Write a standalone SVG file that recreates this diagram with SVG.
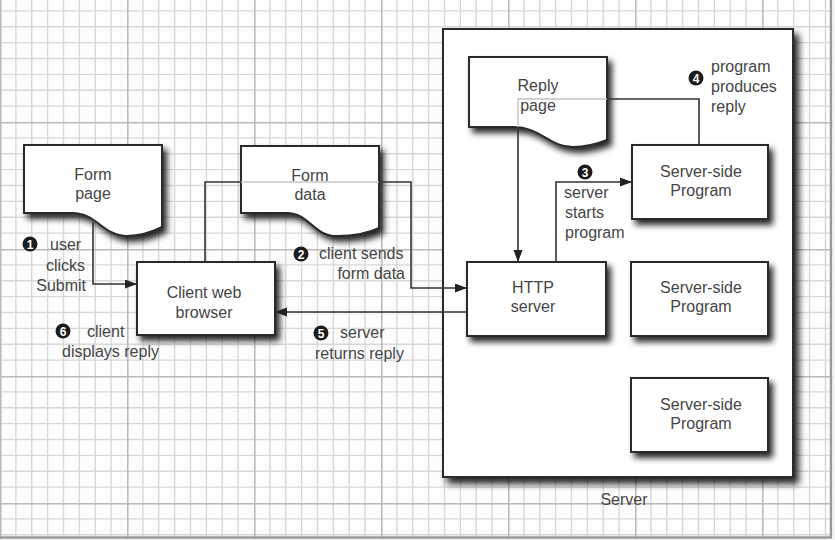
<svg xmlns="http://www.w3.org/2000/svg" width="835" height="540" viewBox="0 0 835 540">
  <defs>
    <!-- graph-paper background: 8 minor cells per major cell -->
    <pattern id="grid" patternUnits="userSpaceOnUse" x="0" y="-5" width="127" height="127">
      <path d="M15.875,0V127M31.75,0V127M47.625,0V127M63.5,0V127M79.375,0V127M95.25,0V127M111.125,0V127M0,15.875H127M0,31.75H127M0,47.625H127M0,63.5H127M0,79.375H127M0,95.25H127M0,111.125H127" stroke="#d8d8d8" stroke-width="1.4" fill="none"/>
      <path d="M0.75,0V127M0,0.75H127" stroke="#bababa" stroke-width="1.6" fill="none"/>
    </pattern>
    <filter id="shadow" x="-15%" y="-15%" width="140%" height="150%">
      <feGaussianBlur in="SourceAlpha" stdDeviation="3"/>
      <feOffset dx="4" dy="5"/>
      <feComponentTransfer><feFuncA type="linear" slope="0.85"/></feComponentTransfer>
      <feMerge><feMergeNode/><feMergeNode in="SourceGraphic"/></feMerge>
    </filter>
    <filter id="shadowBig" x="-8%" y="-8%" width="120%" height="120%">
      <feGaussianBlur in="SourceAlpha" stdDeviation="3.5"/>
      <feOffset dx="5" dy="6"/>
      <feComponentTransfer><feFuncA type="linear" slope="0.85"/></feComponentTransfer>
      <feMerge><feMergeNode/><feMergeNode in="SourceGraphic"/></feMerge>
    </filter>
    <marker id="arrow" markerUnits="userSpaceOnUse" markerWidth="13" markerHeight="10" refX="12" refY="4.5" orient="auto">
      <path d="M0,0L12,4.5L0,9z" fill="#222"/>
    </marker>
    <style>
      .box { fill: #fff; stroke: #2a2a2a; stroke-width: 2; }
      .lbl { font-family: "Liberation Sans", Arial, sans-serif; font-size: 16px; fill: #454545; }
      .mid { text-anchor: middle; }
      .end { text-anchor: end; }
      .wire { fill: none; stroke: #333; stroke-width: 1.6; }
      .faint { fill: none; stroke: #c4c4c4; stroke-width: 1.4; }
      .num { fill: #1c1c1c; }
      .numtxt { font-family: "Liberation Sans", Arial, sans-serif; font-size: 12px; font-weight: bold; fill: #fff; text-anchor: middle; }
    </style>
  </defs>

  <rect width="835" height="540" fill="#fdfdfd"/>
  <rect width="835" height="540" fill="url(#grid)"/>
  <!-- page frame -->
  <path d="M831,0V537.5H0" fill="none" stroke="#9a9a9a" stroke-width="2.5"/>
  <rect x="832.5" y="0" width="3" height="540" fill="#f4f4f4"/>
  <rect x="0" y="539" width="835" height="2" fill="#f4f4f4"/>

  <!-- server container -->
  <g id="server">
    <rect class="box" filter="url(#shadowBig)" x="443" y="29" width="350" height="448"/>
    <text class="lbl mid" x="624" y="505">Server</text>
  </g>

  <g id="form-page">
    <path class="box" filter="url(#shadow)" d="M24,145H162V227C152,232 141,236 127,236C103,236 97,213 72,213L24,213Z"/>
    <text class="lbl mid" x="93" y="180">Form</text>
    <text class="lbl mid" x="93" y="199">page</text>
  </g>

  <g id="form-data">
    <path class="box" filter="url(#shadow)" d="M241,146H379V228C369,233 352,236 337,236C313,236 309,213 287,213L241,213Z"/>
    <text class="lbl mid" x="310" y="181">Form</text>
    <text class="lbl mid" x="310" y="200">data</text>
  </g>

  <g id="browser">
    <rect class="box" filter="url(#shadow)" x="137" y="262" width="138" height="73"/>
    <text class="lbl mid" x="204" y="298">Client web</text>
    <text class="lbl mid" x="204" y="318">browser</text>
  </g>

  <g id="reply-page">
    <path class="box" filter="url(#shadow)" d="M469,57H607V140C597,144 587,147 573,147C549,147 541,127 513,127L469,127Z"/>
    <text class="lbl mid" x="538" y="91">Reply</text>
    <text class="lbl mid" x="538" y="111">page</text>
  </g>

  <g id="http-server">
    <rect class="box" filter="url(#shadow)" x="467" y="262" width="139" height="74"/>
    <text class="lbl mid" x="533" y="293">HTTP</text>
    <text class="lbl mid" x="533" y="312">server</text>
  </g>

  <g id="program-1">
    <rect class="box" filter="url(#shadow)" x="632" y="145" width="136" height="74"/>
    <text class="lbl mid" x="701" y="177">Server-side</text>
    <text class="lbl mid" x="701" y="196">Program</text>
  </g>

  <g id="program-2">
    <rect class="box" filter="url(#shadow)" x="631" y="262" width="137" height="74"/>
    <text class="lbl mid" x="701" y="293">Server-side</text>
    <text class="lbl mid" x="701" y="312">Program</text>
  </g>

  <g id="program-3">
    <rect class="box" filter="url(#shadow)" x="631" y="378" width="137" height="74"/>
    <text class="lbl mid" x="701" y="410">Server-side</text>
    <text class="lbl mid" x="701" y="429">Program</text>
  </g>

  <g id="connectors">
    <!-- 1: form page to browser -->
    <path class="wire" d="M93,222V284H137" marker-end="url(#arrow)"/>
    <!-- 2: browser sends form data to HTTP server -->
    <path class="wire" d="M205,262V182H241"/>
    <path class="faint" d="M241,182H379"/>
    <path class="wire" d="M379,182H411V288H467" marker-end="url(#arrow)"/>
    <!-- 3: HTTP server starts program -->
    <path class="wire" d="M556,262V182H632" marker-end="url(#arrow)"/>
    <!-- 4: program produces reply, reply goes to HTTP server -->
    <path class="wire" d="M699,145V99H607"/>
    <path class="faint" d="M607,99H518V127"/>
    <path class="wire" d="M518,127V262" marker-end="url(#arrow)"/>
    <!-- 5: server returns reply -->
    <path class="wire" d="M467,312H275" marker-end="url(#arrow)"/>
  </g>

  <g id="step-labels">
    <circle class="num" cx="30" cy="244" r="7.5"/><text class="numtxt" x="30" y="248.5">1</text>
    <text class="lbl" x="50" y="250">user</text>
    <text class="lbl end" x="85" y="271">clicks</text>
    <text class="lbl end" x="86" y="291">Submit</text>

    <circle class="num" cx="301" cy="254" r="7.5"/><text class="numtxt" x="301" y="258.5">2</text>
    <text class="lbl" x="319" y="259">client sends</text>
    <text class="lbl end" x="405" y="279">form data</text>

    <circle class="num" cx="585" cy="172" r="7.5"/><text class="numtxt" x="585" y="176.5">3</text>
    <text class="lbl" x="564" y="198">server</text>
    <text class="lbl" x="565" y="218">starts</text>
    <text class="lbl" x="565" y="238">program</text>

    <circle class="num" cx="696" cy="78" r="7.5"/><text class="numtxt" x="696" y="82.5">4</text>
    <text class="lbl" x="711" y="72">program</text>
    <text class="lbl" x="711" y="92">produces</text>
    <text class="lbl" x="711" y="112">reply</text>

    <circle class="num" cx="321" cy="333" r="7.5"/><text class="numtxt" x="321" y="337.5">5</text>
    <text class="lbl" x="340" y="338">server</text>
    <text class="lbl" x="315" y="359">returns reply</text>

    <circle class="num" cx="63" cy="331" r="7.5"/><text class="numtxt" x="63" y="335.5">6</text>
    <text class="lbl" x="87" y="337">client</text>
    <text class="lbl" x="62" y="357">displays reply</text>
  </g>
</svg>
